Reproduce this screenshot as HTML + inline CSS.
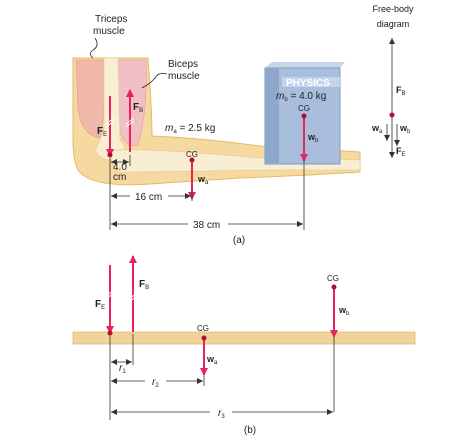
<!DOCTYPE html>
<html><head><meta charset="utf-8"><style>
html,body{margin:0;padding:0;background:#fff}
svg{display:block}
text{font-family:"Liberation Sans",sans-serif;fill:#222}
</style></head><body>
<svg width="462" height="437" viewBox="0 0 462 437">
<defs>
<marker id="ah" markerWidth="8" markerHeight="8" refX="7" refY="4" orient="auto" markerUnits="userSpaceOnUse"><path d="M0,0 L8,4 L0,8 Z" fill="#e8245a"/></marker>
<marker id="sh" markerWidth="6" markerHeight="6" refX="6" refY="3" orient="auto" markerUnits="userSpaceOnUse"><path d="M0,0 L6,3 L0,6 Z" fill="#333"/></marker>
</defs>
<g>
<path d="M73,58 L148,58 Q152,110 152,136 Q200,138 260,146 L360,152 L360,172 Q300,176 240,178 L150,184 Q90,188 78,170 Q73,160 73,140 Z" fill="#f6d9a0" stroke="#e6b96a" stroke-width="1"/>
<path d="M76,60 L104,60 Q106,110 100,138 Q82,135 78,110 Z" fill="#f0b8a8" stroke="#e59a8a" stroke-width="0.6"/>
<path d="M118,60 L146,60 Q148,110 138,145 Q124,148 120,130 Q114,100 118,60 Z" fill="#f2c0c4" stroke="#e49aa4" stroke-width="0.6"/>
<path d="M104,58 L118,58 L120,140 Q130,150 118,160 Q100,162 95,150 Q100,140 104,130 Z" fill="#f8eed4" stroke="#e2c890" stroke-width="0.6"/>
<path d="M112,150 Q150,148 260,158 L360,160 L360,170 L260,170 Q170,172 120,172 Q108,165 112,150 Z" fill="#f8eed4" stroke="#e2c890" stroke-width="0.6"/>
</g>
<g>
<path d="M265,68 L272,62 L345,62 L340,68 Z" fill="#c8d6ea"/>
<rect x="265" y="68" width="75" height="96" fill="#a8bedc" stroke="#7f9bc4"/>
<rect x="265" y="68" width="14" height="96" fill="#8ea8cc"/>
<rect x="282" y="77" width="58" height="10" fill="#c3d3ea"/>
<text x="286" y="86" font-size="10" font-weight="bold" style="fill:#fff">PHYSICS</text>
<text x="276" y="99" font-size="10"><tspan font-style="italic">m</tspan><tspan font-size="6" dy="2">b</tspan><tspan dy="-2"> = 4.0 kg</tspan></text>
</g>
<text x="95" y="22" font-size="10">Triceps</text>
<text x="93" y="34" font-size="10">muscle</text>
<path d="M95,38 Q100,46 93,50 Q88,54 93,58" fill="none" stroke="#222" stroke-width="0.8"/>
<text x="168" y="67" font-size="10">Biceps</text>
<text x="168" y="79" font-size="10">muscle</text>
<path d="M167,74 Q158,72 155,78 Q150,84 142,88" fill="none" stroke="#222" stroke-width="0.8"/>
<text x="393" y="12" font-size="9" text-anchor="middle">Free-body</text>
<text x="393" y="27" font-size="9" text-anchor="middle">diagram</text>
<g>
<line x1="392" y1="157" x2="392" y2="38" stroke="#555" stroke-width="1" marker-end="url(#sh)"/>
<line x1="392" y1="115" x2="392" y2="158" stroke="#555" stroke-width="1" marker-end="url(#sh)"/>
<line x1="387" y1="124" x2="387" y2="141" stroke="#555" stroke-width="1" marker-end="url(#sh)"/>
<line x1="397" y1="124" x2="397" y2="146" stroke="#555" stroke-width="1" marker-end="url(#sh)"/>
<circle cx="392" cy="115" r="2.5" fill="#b01030"/>
<text x="396" y="93" font-size="9" font-weight="bold">F<tspan font-size="6" dy="2" font-weight="normal">B</tspan></text>
<text x="372" y="131" font-size="9" font-weight="bold">w<tspan font-size="6" dy="2" font-weight="normal">a</tspan></text>
<text x="400" y="131" font-size="9" font-weight="bold">w<tspan font-size="6" dy="2" font-weight="normal">b</tspan></text>
<text x="396" y="154" font-size="9" font-weight="bold">F<tspan font-size="6" dy="2" font-weight="normal">E</tspan></text>
</g>
<g stroke="#e8245a" stroke-width="2">
<line x1="110" y1="96" x2="110" y2="156" marker-end="url(#ah)"/>
<line x1="130" y1="152" x2="130" y2="90" marker-end="url(#ah)"/>
<line x1="192" y1="161" x2="192" y2="199" marker-end="url(#ah)"/>
<line x1="304" y1="116" x2="304" y2="161" marker-end="url(#ah)"/>
</g>
<g stroke="#fff" stroke-width="1"><line x1="106" y1="124" x2="114" y2="118"/><line x1="106" y1="127" x2="114" y2="121"/><line x1="126" y1="124" x2="134" y2="118"/><line x1="126" y1="127" x2="134" y2="121"/></g>
<circle cx="110" cy="155" r="2.5" fill="#b01030"/><circle cx="192" cy="160" r="2.5" fill="#b01030"/><circle cx="304" cy="116" r="2.5" fill="#b01030"/>
<text x="97" y="134" font-size="10" font-weight="bold">F<tspan font-size="6" dy="2" font-weight="normal">E</tspan></text>
<text x="133" y="110" font-size="10" font-weight="bold">F<tspan font-size="6" dy="2" font-weight="normal">B</tspan></text>
<text x="165" y="131" font-size="10"><tspan font-style="italic">m</tspan><tspan font-size="6" dy="2">a</tspan><tspan dy="-2"> = 2.5 kg</tspan></text>
<text x="186" y="157" font-size="8">CG</text>
<text x="198" y="182" font-size="9" font-weight="bold">w<tspan font-size="6" dy="2" font-weight="normal">a</tspan></text>
<text x="298" y="111" font-size="8">CG</text>
<text x="308" y="140" font-size="9" font-weight="bold">w<tspan font-size="6" dy="2" font-weight="normal">b</tspan></text>
<g stroke="#333" stroke-width="0.8" fill="none">
<line x1="110" y1="158" x2="110" y2="230"/><line x1="130" y1="155" x2="130" y2="166"/>
<line x1="192" y1="190" x2="192" y2="201"/><line x1="304" y1="160" x2="304" y2="230"/>
<line x1="120" y1="162" x2="111" y2="162" marker-end="url(#sh)"/><line x1="120" y1="162" x2="129" y2="162" marker-end="url(#sh)"/>
<line x1="130" y1="196" x2="111" y2="196" marker-end="url(#sh)"/><line x1="168" y1="196" x2="191" y2="196" marker-end="url(#sh)"/>
<line x1="188" y1="224" x2="111" y2="224" marker-end="url(#sh)"/><line x1="228" y1="224" x2="303" y2="224" marker-end="url(#sh)"/>
</g>
<text x="113" y="170" font-size="10">4.0</text><text x="113" y="180" font-size="10">cm</text>
<text x="135" y="200" font-size="10">16 cm</text>
<text x="193" y="228" font-size="10">38 cm</text>
<text x="239" y="243" font-size="10" text-anchor="middle">(a)</text>
<rect x="73" y="332" width="342" height="12" fill="#f0d39a" stroke="#e2bd78" stroke-width="0.8"/>
<g stroke="#333" stroke-width="0.8">
<line x1="110" y1="333" x2="110" y2="420"/><line x1="133" y1="334" x2="133" y2="365"/>
<line x1="204" y1="374" x2="204" y2="386"/><line x1="334" y1="287" x2="334" y2="412"/>
<line x1="121" y1="362" x2="111" y2="362" marker-end="url(#sh)"/><line x1="121" y1="362" x2="132" y2="362" marker-end="url(#sh)"/>
<line x1="145" y1="381" x2="111" y2="381" marker-end="url(#sh)"/><line x1="166" y1="381" x2="203" y2="381" marker-end="url(#sh)"/>
<line x1="210" y1="412" x2="111" y2="412" marker-end="url(#sh)"/><line x1="232" y1="412" x2="333" y2="412" marker-end="url(#sh)"/>
</g>
<g stroke="#e8245a" stroke-width="2">
<line x1="110" y1="265" x2="110" y2="333" marker-end="url(#ah)"/>
<line x1="133" y1="332" x2="133" y2="256" marker-end="url(#ah)"/>
<line x1="204" y1="338" x2="204" y2="375" marker-end="url(#ah)"/>
<line x1="334" y1="287" x2="334" y2="337" marker-end="url(#ah)"/>
</g>
<g stroke="#fff" stroke-width="1"><line x1="106" y1="296" x2="114" y2="290"/><line x1="106" y1="299" x2="114" y2="293"/><line x1="129" y1="299" x2="137" y2="293"/><line x1="129" y1="302" x2="137" y2="296"/></g>
<circle cx="110" cy="333" r="2.5" fill="#b01030"/><circle cx="204" cy="338" r="2.5" fill="#b01030"/><circle cx="334" cy="287" r="2.5" fill="#b01030"/>
<text x="95" y="307" font-size="10" font-weight="bold">F<tspan font-size="6" dy="2" font-weight="normal">E</tspan></text>
<text x="139" y="287" font-size="10" font-weight="bold">F<tspan font-size="6" dy="2" font-weight="normal">B</tspan></text>
<text x="197" y="331" font-size="8">CG</text>
<text x="207" y="362" font-size="9" font-weight="bold">w<tspan font-size="6" dy="2" font-weight="normal">a</tspan></text>
<text x="327" y="281" font-size="8">CG</text>
<text x="339" y="313" font-size="9" font-weight="bold">w<tspan font-size="6" dy="2" font-weight="normal">b</tspan></text>
<text x="119" y="371" font-size="10" font-style="italic">r<tspan font-size="6" dy="2" font-style="normal">1</tspan></text>
<text x="152" y="385" font-size="10" font-style="italic">r<tspan font-size="6" dy="2" font-style="normal">2</tspan></text>
<text x="218" y="416" font-size="10" font-style="italic">r<tspan font-size="6" dy="2" font-style="normal">3</tspan></text>
<text x="250" y="433" font-size="10" text-anchor="middle">(b)</text>
</svg>
</body></html>
